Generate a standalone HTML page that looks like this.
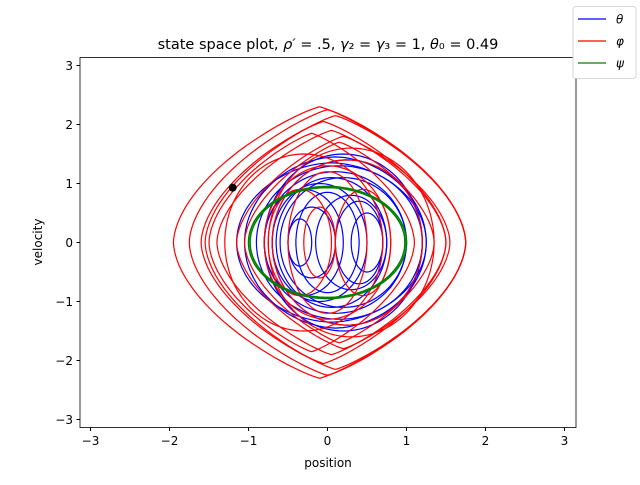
<!DOCTYPE html>
<html><head><meta charset="utf-8"><style>
body{margin:0;background:#fff;}
svg text{font-family:"DejaVu Sans","Liberation Sans",sans-serif;}
</style></head><body>
<svg id="c" width="640" height="480" xmlns="http://www.w3.org/2000/svg">
<rect width="640" height="480" fill="#fff"/>
<g id="plot"></g>
<rect x="80" y="57.5" width="496" height="370" fill="none" stroke="#000" stroke-width="0.8"/>
<g id="ticks"></g>
<text x="328" y="49" font-size="14.5" text-anchor="middle">state space plot, <tspan font-style="italic">ρ′</tspan> = .5, <tspan font-style="italic">γ</tspan>₂ = <tspan font-style="italic">γ</tspan>₃ = 1, <tspan font-style="italic">θ</tspan>₀ = 0.49</text>
<text x="328" y="467" font-size="12" text-anchor="middle">position</text>
<text x="42" y="242" font-size="12" text-anchor="middle" transform="rotate(-90 42 242)">velocity</text>
<g>
<rect x="573" y="6.5" width="63" height="72" rx="3" fill="#fff" stroke="#ccc" stroke-width="0.8"/>
<g><line x1="578" y1="19" x2="606" y2="19" stroke="#0000ff" stroke-width="1.2"/><text x="616" y="23.5" font-size="12" font-style="italic">θ</text></g>
<g><line x1="578" y1="41" x2="606" y2="41" stroke="#ff0000" stroke-width="1.2"/><text x="616" y="45.5" font-size="12" font-style="italic">φ</text></g>
<g><line x1="578" y1="63" x2="606" y2="63" stroke="#008000" stroke-width="1.2"/><text x="616" y="67.5" font-size="12" font-style="italic">ψ</text></g>
</g>
</svg>
<script>
// tick values
const xTicks=[-3,-2,-1,0,1,2,3];
const yTicks=[-3,-2,-1,0,1,2,3];
// loops: x-center, x-amplitude, y-amplitude
const blueCx=[0.05,0.1,0.15,0.2,0.25,0.1,0.2,-0.3,-0.1,0.05,0.3,-0.2,0.4,0.0,-0.35,0.5];
const blueAx=[1.2,1.15,1.05,1.0,0.95,0.9,0.8,0.5,0.6,0.7,0.45,0.3,0.3,0.4,0.15,0.2];
const blueAy=[1.35,1.45,1.3,1.5,1.4,1.2,1.1,0.9,1.0,1.1,0.8,0.6,0.7,0.85,0.4,0.5];
const redCx=[-0.1,0.0,0.1,-0.05,0.05,0.2,-0.2,0.15,0.3,-0.3,0.25,0.0,-0.35,0.45,0.0,-0.1];
const redAx=[1.85,1.75,1.65,1.55,1.45,1.35,1.3,1.2,1.05,1.0,0.95,0.8,0.4,0.35,0.5,0.2];
const redAy=[2.3,2.25,2.15,2.05,1.9,1.8,1.85,1.7,1.6,1.5,1.4,1.3,0.9,0.9,1.2,0.6];
const greenCx=[0.0,0.0];
const greenAx=[1.0,0.98];
const greenAy=[0.95,0.93];
const dotX=-1.2, dotY=0.93;

const X=v=>327.5+v*79;
const Y=v=>242.5-v*59;
const NS="http://www.w3.org/2000/svg";
const plot=document.getElementById('plot');
const ticks=document.getElementById('ticks');
xTicks.forEach(t=>{
  const l=document.createElementNS(NS,'line');
  
  
  l.setAttribute('x1',X(t));l.setAttribute('x2',X(t));l.setAttribute('y1',427.5);l.setAttribute('y2',431);l.setAttribute('stroke','#000');
  ticks.appendChild(l);
  const s=document.createElementNS(NS,'text');
  
  
  s.setAttribute('x',X(t));s.setAttribute('y',445);s.setAttribute('font-size','12');s.setAttribute('text-anchor','middle');
  s.textContent=(t<0?'−':'')+Math.abs(t);ticks.appendChild(s);
});
yTicks.forEach(t=>{
  const l=document.createElementNS(NS,'line');
  
  
  l.setAttribute('x1',76.5);l.setAttribute('x2',80);l.setAttribute('y1',Y(t));l.setAttribute('y2',Y(t));l.setAttribute('stroke','#000');
  ticks.appendChild(l);
  const s=document.createElementNS(NS,'text');
  
  
  s.setAttribute('x',73);s.setAttribute('y',Y(t)+4.5);s.setAttribute('font-size','12');s.setAttribute('text-anchor','end');
  s.textContent=(t<0?'−':'')+Math.abs(t);ticks.appendChild(s);
});
function loop(cx,ax,ay,px,py){
  let d='';
  for(let i=0;i<=120;i++){
    const t=i/120*2*Math.PI,c=Math.cos(t),s=Math.sin(t);
    const x=cx+ax*Math.sign(c)*Math.pow(Math.abs(c),px);
    const y=ay*Math.sign(s)*Math.pow(Math.abs(s),py);
    d+=(i?'L':'M')+X(x).toFixed(1)+' '+Y(y).toFixed(1);
  }
  return d+'Z';
}
function series(cxs,axs,ays,color,name,px,py,w){
  cxs.forEach((cx,i)=>{
    const p=document.createElementNS(NS,'path');
    
    
    const big=axs[i]>1.1;
    p.setAttribute('d',loop(cx,axs[i],ays[i],big?px:1,big?py:1));
    p.setAttribute('fill','none');p.setAttribute('stroke',color);p.setAttribute('stroke-width',w);
    plot.appendChild(p);
  });
}
series(blueCx,blueAx,blueAy,'#0000ff','theta-loop',1.1,1,1.2);
series(redCx,redAx,redAy,'#ff0000','phi-loop',1.7,1.15,1.2);
series(greenCx,greenAx,greenAy,'#008000','psi-loop',1,1,1.5);
const dot=document.createElementNS(NS,'circle');


dot.setAttribute('cx',X(dotX));dot.setAttribute('cy',Y(dotY));dot.setAttribute('r',4);dot.setAttribute('fill','#000');
plot.appendChild(dot);
</script>
</body></html>
